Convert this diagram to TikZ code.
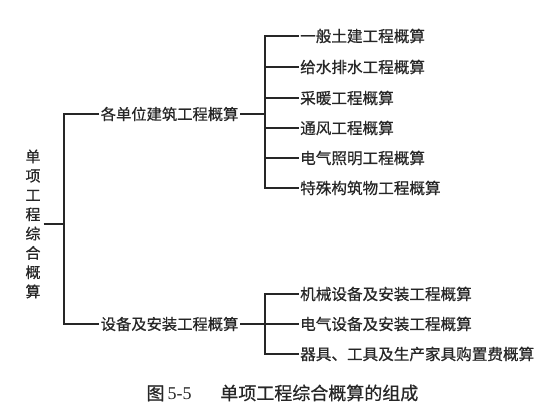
\documentclass[tikz,border=0pt]{standalone}
\usepackage{fontspec}
\setmainfont{Noto Sans CJK SC}[FakeBold=0.6]
\newfontfamily\latinserif{Liberation Serif}
\begin{document}
\begin{tikzpicture}[x={(1pt,0)},y={(0,-1pt)},
  conn/.style={line width=1.1pt,draw=black!85},
  leaf/.style={anchor=west,inner sep=1.5pt,font=\fontsize{15.6}{16}\selectfont,text=black!85},
  branch/.style={anchor=west,inner sep=1.5pt,font=\fontsize{15.3}{16}\selectfont,text=black!85},
  rootbox/.style={align=center,inner sep=3pt,font=\fontsize{15}{19.3}\selectfont,text=black!85},
  captionbox/.style={font=\fontsize{18}{20}\selectfont,text=black!85}]
\useasboundingbox (0,0) rectangle (544,411);
% root
\node[rootbox] (root) at (33,224) {单\\项\\工\\程\\综\\合\\概\\算};
\coordinate (j0) at (64,224);
% branches
\node[branch] (b1) at (99,114) {各单位建筑工程概算};
\node[branch] (b2) at (99,324) {设备及安装工程概算};
\coordinate (k1) at (265,114);
\coordinate (k2) at (265,324);
% leaves of branch 1
\node[leaf] (l1) at (298.5,36) {一般土建工程概算};
\node[leaf] (l2) at (298.5,67) {给水排水工程概算};
\node[leaf] (l3) at (298.5,98) {采暖工程概算};
\node[leaf] (l4) at (298.5,128) {通风工程概算};
\node[leaf] (l5) at (298.5,158) {电气照明工程概算};
\node[leaf] (l6) at (298.5,188) {特殊构筑物工程概算};
% leaves of branch 2
\node[leaf] (m1) at (298.5,294) {机械设备及安装工程概算};
\node[leaf] (m2) at (298.5,324) {电气设备及安装工程概算};
\node[leaf] (m3) at (298.5,354) {器具、工具及生产家具购置费概算};
% caption
\node[captionbox,anchor=west] (cap) at (143,393) {图\,{\latinserif 5-5}\hspace{1.6em}单项工程综合概算的组成};
% connectors
\draw[conn] (root.east) -- (j0);
\draw[conn] (b1.west) -| (j0) |- (b2.west);
\draw[conn] (b1.east) -- (k1);
\draw[conn] (b2.east) -- (k2);
\foreach \n in {l1,l2,l3,l4,l5,l6} \draw[conn] (k1) |- (\n.west);
\foreach \n in {m1,m2,m3} \draw[conn] (k2) |- (\n.west);
\end{tikzpicture}
\end{document}
